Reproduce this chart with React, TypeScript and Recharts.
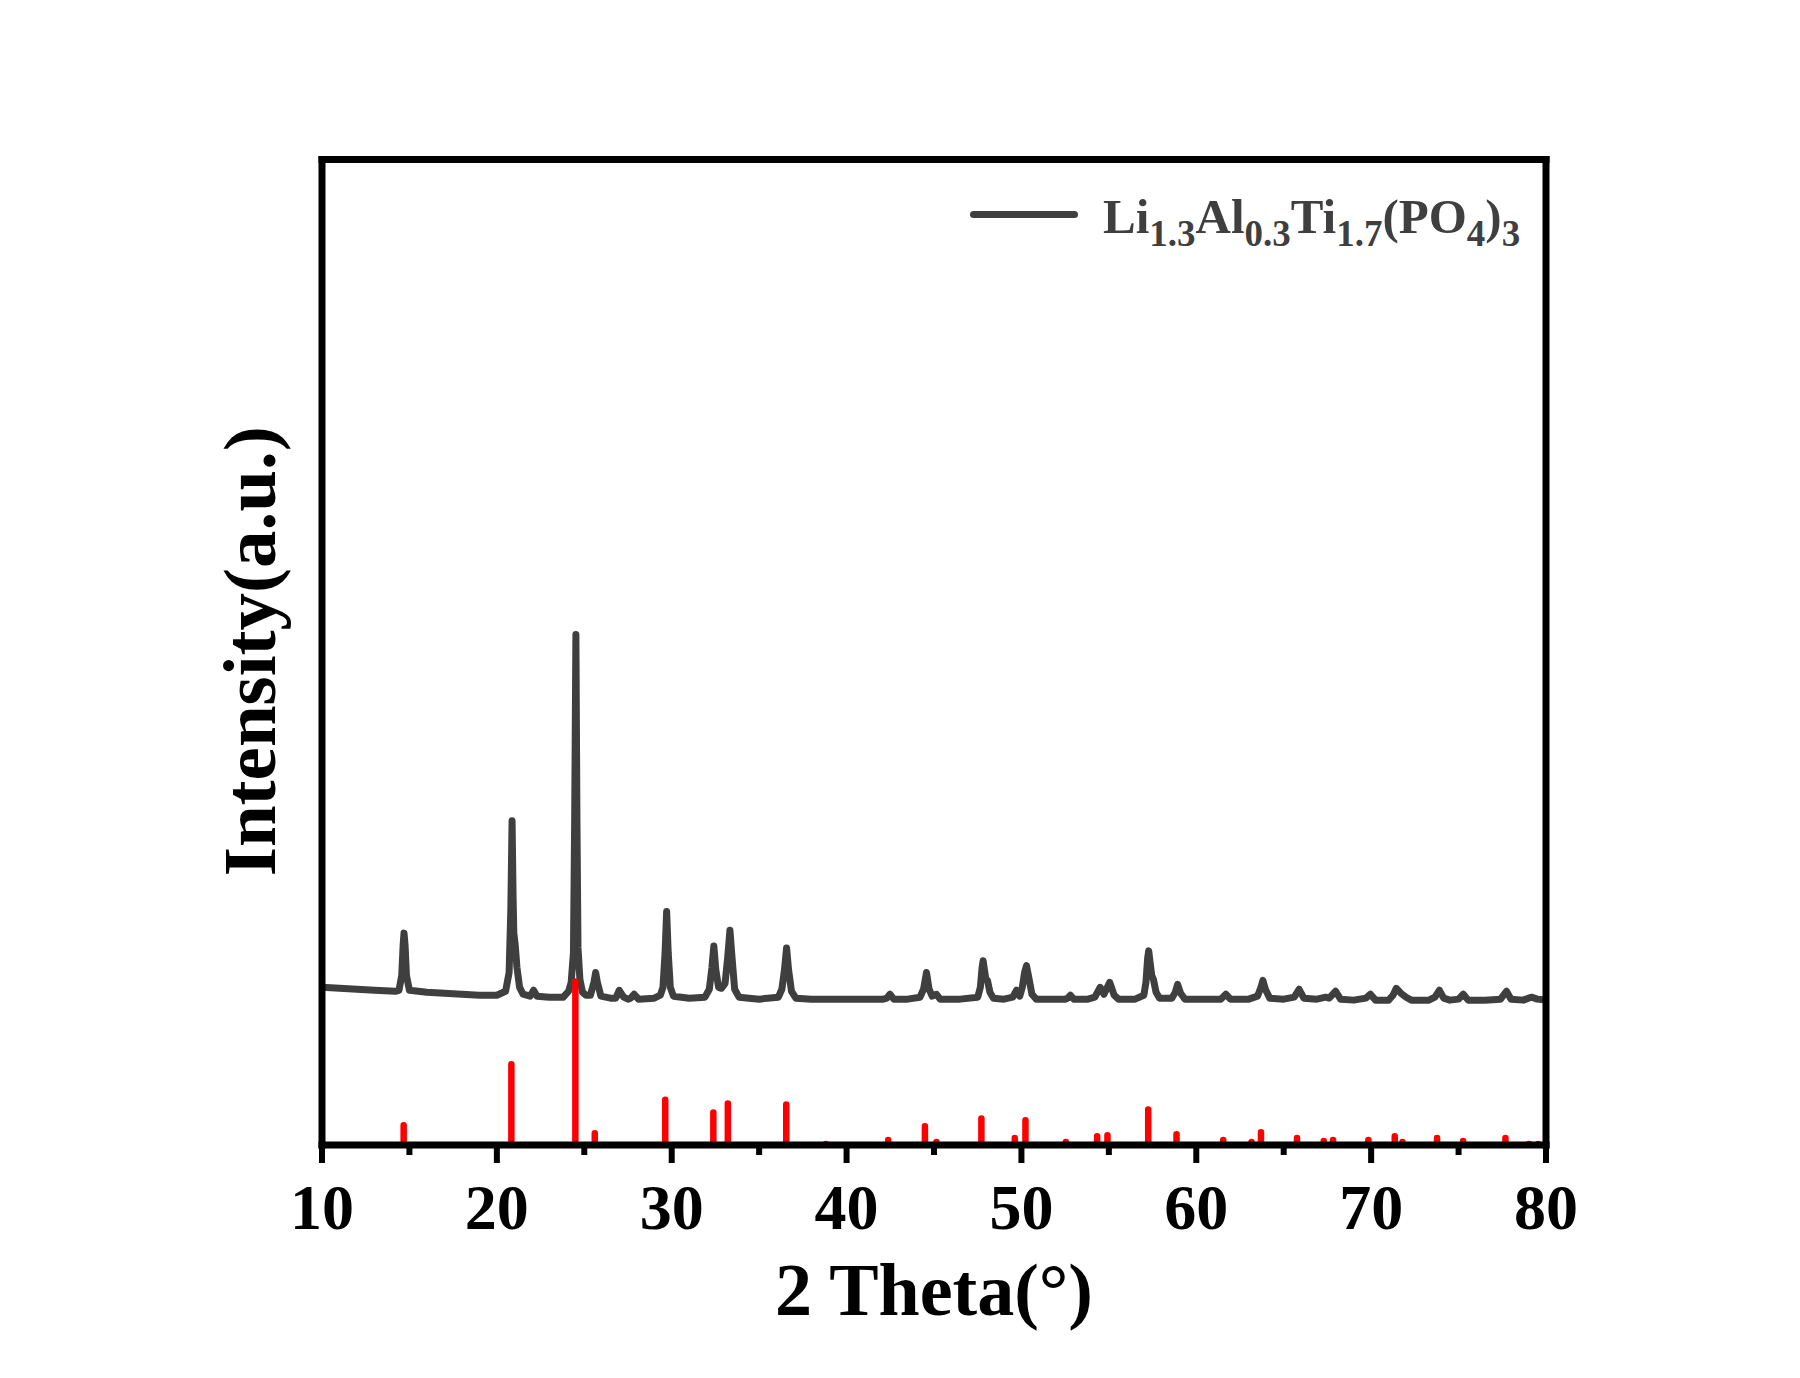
import { ComposedChart, Line, XAxis, YAxis, Legend } from 'recharts';

const SERIF = '"Liberation Serif", "Times New Roman", serif';
const FORMULA = 'Li1.3Al0.3Ti1.7(PO4)3';

// measured XRD scan: [2θ (deg), intensity (a.u.)]
const scanPoints: [number, number][] = [
  [10.0, 160], [11.0, 159], [12.0, 158], [13.0, 157], [14.2, 156],
  [14.4, 157], [14.56, 172], [14.64, 203], [14.69, 215], [14.75, 203], [14.83, 172], [15.0, 157],
  [16.0, 155], [17.0, 154], [18.0, 153], [19.0, 152], [20.0, 152],
  [20.5, 156], [20.7, 175], [20.8, 240], [20.87, 329], [20.93, 250], [20.97, 215], [21.05, 203],
  [21.15, 180], [21.3, 160], [21.5, 153],
  [21.9, 151], [22.1, 157], [22.3, 151], [23.0, 150], [23.8, 150],
  [24.1, 156], [24.25, 165], [24.38, 195], [24.45, 330], [24.52, 518], [24.58, 330], [24.64, 200],
  [24.75, 168], [24.9, 155], [25.1, 152],
  [25.35, 152], [25.55, 165], [25.65, 175], [25.75, 165], [25.95, 151],
  [26.5, 149], [26.8, 149], [27.0, 157], [27.25, 150], [27.5, 148], [27.65, 149], [27.85, 153], [28.1, 148],
  [29.0, 149], [29.35, 152], [29.5, 160], [29.62, 195], [29.71, 237], [29.8, 195], [29.92, 160], [30.1, 151],
  [31.0, 149], [31.9, 150],
  [32.15, 158], [32.3, 180], [32.41, 202], [32.52, 178], [32.68, 160], [32.85, 159],
  [33.05, 164], [33.2, 190], [33.33, 218], [33.45, 190], [33.6, 158], [33.85, 150],
  [35.0, 148], [36.1, 150],
  [36.3, 158], [36.45, 178], [36.57, 200], [36.68, 178], [36.85, 156], [37.1, 149],
  [38.0, 148], [40.0, 148], [42.1, 148], [42.3, 149], [42.48, 153], [42.7, 148],
  [43.5, 148], [44.2, 150], [44.4, 158], [44.57, 175], [44.72, 158], [44.9, 151], [45.14, 153], [45.35, 148],
  [46.5, 148], [47.5, 150],
  [47.65, 160], [47.75, 180], [47.81, 187], [47.88, 178], [47.97, 168], [48.06, 167], [48.2, 155], [48.4, 149],
  [49.0, 148], [49.5, 150], [49.72, 157], [49.9, 151],
  [50.05, 160], [50.18, 175], [50.29, 182], [50.42, 170], [50.6, 153], [50.85, 148],
  [52.5, 148], [52.65, 149], [52.8, 152], [53.0, 148],
  [53.8, 148], [54.2, 150], [54.5, 160], [54.72, 153], [55.05, 165], [55.3, 152], [55.55, 148],
  [56.5, 148], [57.0, 152],
  [57.12, 165], [57.22, 190], [57.28, 197], [57.36, 185], [57.45, 172], [57.55, 168], [57.7, 155], [57.9, 149],
  [58.6, 149], [58.8, 155], [58.93, 163], [59.1, 154], [59.35, 148],
  [61.4, 148], [61.69, 153], [61.95, 148],
  [63.0, 148], [63.5, 151], [63.7, 160], [63.81, 167], [63.95, 158], [64.2, 149],
  [65.0, 148], [65.6, 150], [65.88, 158], [66.15, 149],
  [66.9, 148], [67.4, 150], [67.6, 149], [67.97, 156], [68.25, 148],
  [69.0, 147], [69.7, 149], [69.96, 153], [70.25, 147],
  [71.0, 147], [71.25, 152], [71.44, 159], [71.7, 154], [72.0, 150], [72.3, 147],
  [73.3, 147], [73.65, 150], [73.9, 157], [74.15, 149], [74.5, 147],
  [75.0, 148], [75.27, 153], [75.55, 147],
  [76.5, 147], [77.4, 148], [77.74, 156], [78.0, 148],
  [78.7, 147], [79.0, 149], [79.2, 150], [79.5, 148], [80.0, 147],
];

// standard card reflections
const refTwoTheta = [
  14.67, 20.83, 24.49, 25.6, 29.63, 32.38, 33.21, 36.55, 38.82, 42.38,
  44.48, 45.14, 47.71, 49.62, 50.23, 52.54, 54.33, 54.92, 57.25, 58.87,
  61.54, 63.16, 63.7, 65.76, 67.29, 67.82, 69.84, 71.35, 71.79, 73.77,
  75.26, 77.68, 79.03, 79.55,
];
const refIntensity = [
  20, 82, 166, 12, 46, 33, 42, 41, 1, 5,
  19, 3, 27, 7, 25, 3, 9, 10, 36, 11,
  5, 3, 13, 7, 4, 5, 5, 9, 3, 7,
  4, 7, 1, 1,
];

const majorTicks = [10, 20, 30, 40, 50, 60, 70, 80];
const minorTicks = [15, 25, 35, 45, 55, 65, 75];

const scanRows = scanPoints.map(([twoTheta, intensity]) => ({ twoTheta, intensity }));

// each stick: axis -> peak height, then a gap
const stickRows = refTwoTheta.flatMap((twoTheta, i) => [
  { twoTheta, ref: 0 },
  { twoTheta, ref: refIntensity[i] },
  { twoTheta, ref: null },
]);

const frame = { stroke: '#000', strokeWidth: 7, strokeLinecap: 'square' as const };

// outward tick mark plus its number, drawn from the axis position
function MajorTick({ x, y, payload }: any) {
  return (
    <g>
      <line x1={x} x2={x} y1={y} y2={y + 18} stroke="#000" strokeWidth={6} />
      <text
        x={x}
        y={y + 84}
        textAnchor="middle"
        fill="#000"
        fontSize={64}
        fontFamily={SERIF}
        fontWeight={700}
      >
        {payload.value}
      </text>
    </g>
  );
}

function MinorTick({ x, y }: any) {
  return <line x1={x} x2={x} y1={y} y2={y + 9} stroke="#000" strokeWidth={6} />;
}

function IntensityTitle(props: any) {
  const vb = props.viewBox ?? { x: 321, y: 159.5, width: 1, height: 985.5 };
  const x = vb.x - 46.5;
  const y = vb.y + vb.height / 2 - 1;
  return (
    <text
      x={x}
      y={y}
      transform={`rotate(-90, ${x}, ${y})`}
      textAnchor="middle"
      fill="#000"
      fontSize={75}
      fontFamily={SERIF}
      fontWeight={700}
    >
      Intensity(a.u.)
    </text>
  );
}

function FormulaLegend({ payload }: any) {
  const entry = (payload ?? []).find((p: any) => p.dataKey === 'intensity');
  if (!entry) return null;
  // numbers in the formula are set as subscripts
  const parts = String(entry.value).split(/(\d+(?:\.\d+)?)/);
  return (
    <div style={{ position: 'relative', width: 600, height: 70, fontFamily: SERIF, fontWeight: 700, color: entry.color }}>
      <div style={{ position: 'absolute', left: 2, top: 21, width: 108, height: 7, borderRadius: 3.5, background: entry.color }} />
      <div style={{ position: 'absolute', left: 135, top: 2, fontSize: 49, lineHeight: '49px', whiteSpace: 'nowrap' }}>
        {parts.map((s, i) =>
          i % 2 ? (
            <sub key={i} style={{ fontSize: 37, verticalAlign: '-13px', lineHeight: 0 }}>{s}</sub>
          ) : (
            <span key={i}>{s}</span>
          )
        )}
      </div>
    </div>
  );
}

export default function App() {
  return (
    <div style={{ position: 'absolute', left: 0, top: 0, width: 1800, height: 1378, background: '#fff' }}>
      <ComposedChart width={1800} height={1378} margin={{ top: 158.5, right: 253, bottom: 231, left: 321 }}>
        <XAxis
          dataKey="twoTheta"
          type="number"
          domain={[10, 80]}
          ticks={majorTicks}
          interval={0}
          height={1}
          tickSize={0}
          tickMargin={0}
          tick={<MajorTick />}
          tickLine={false}
          axisLine={frame}
          allowDataOverflow
          label={{
            value: '2 Theta(°)',
            position: 'bottom',
            offset: 116,
            fill: '#000',
            fontSize: 74,
            fontFamily: SERIF,
            fontWeight: 700,
          }}
        />
        <XAxis
          xAxisId="minor"
          dataKey="twoTheta"
          type="number"
          domain={[10, 80]}
          ticks={minorTicks}
          interval={0}
          tick={<MinorTick />}
          axisLine={false}
          tickLine={false}
          tickSize={0}
          tickMargin={0}
          height={1}
          allowDataOverflow
        />
        <XAxis
          xAxisId="top"
          orientation="top"
          type="number"
          domain={[10, 80]}
          height={1}
          tick={false}
          tickLine={false}
          axisLine={frame}
        />
        <YAxis
          type="number"
          domain={[0, 1000]}
          width={1}
          tick={false}
          tickLine={false}
          axisLine={frame}
          allowDataOverflow
          label={{ content: IntensityTitle }}
        />
        <YAxis
          yAxisId="right"
          orientation="right"
          type="number"
          domain={[0, 1000]}
          width={1}
          tick={false}
          tickLine={false}
          axisLine={frame}
        />
        <Legend
          content={FormulaLegend}
          layout="horizontal"
          verticalAlign="middle"
          align="center"
          wrapperStyle={{ left: 968, top: 190, width: 600, height: 70 }}
        />
        <Line
          data={scanRows}
          dataKey="intensity"
          name={FORMULA}
          type="linear"
          stroke="#3f3f3f"
          strokeWidth={7}
          strokeLinejoin="round"
          strokeLinecap="round"
          dot={false}
          activeDot={false}
          isAnimationActive={false}
        />
        <Line
          data={stickRows}
          dataKey="ref"
          name="reference"
          legendType="none"
          type="linear"
          stroke="#ff0000"
          strokeWidth={6.5}
          strokeLinecap="round"
          connectNulls={false}
          dot={false}
          activeDot={false}
          isAnimationActive={false}
        />
      </ComposedChart>
    </div>
  );
}
